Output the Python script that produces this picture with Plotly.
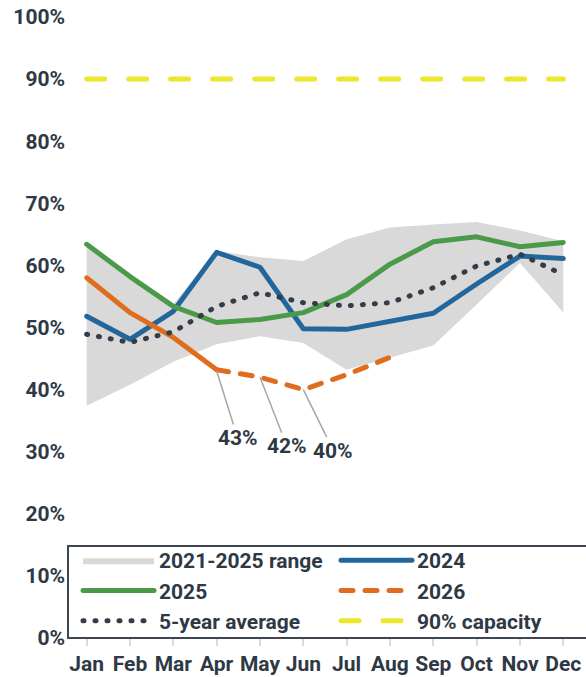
import plotly.graph_objects as go

months = ["Jan", "Feb", "Mar", "Apr", "May", "Jun", "Jul", "Aug", "Sep", "Oct", "Nov", "Dec"]

range_low = [37.4, 40.8, 44.5, 47.3, 48.6, 47.5, 43.2, 45.2, 47.1, 53.7, 60.4, 52.4]
range_high = [63.7, 58.5, 53.8, 62.3, 61.3, 60.7, 64.2, 66.1, 66.6, 67.0, 65.6, 63.9]
y2024 = [51.8, 48.1, 52.6, 62.1, 59.7, 49.8, 49.7, 51.0, 52.3, 57.0, 61.5, 61.1]
y2025 = [63.4, 58.2, 53.4, 50.8, 51.3, 52.4, 55.3, 60.2, 63.8, 64.6, 63.0, 63.7]
y2026_actual = [58.0, 52.4, 48.4, 43.2, None, None, None, None, None, None, None, None]
y2026_proj = [None, None, None, 43.2, 42.0, 40.0, 42.4, 45.2, None, None, None, None]
avg5 = [48.9, 47.6, 49.3, 53.4, 55.6, 54.0, 53.5, 54.0, 56.4, 59.9, 61.8, 58.5]
capacity = [90] * 12

callout_months = ["Apr", "May", "Jun"]
callout_values = [43, 42, 40]
callout_offsets = [(21, 67), (27, 69), (30, 61)]

TEXT = "#2e3945"
FONT = dict(family="Roboto", size=21, color=TEXT, weight="bold")

# second legend column gets a narrower entry so the legend fits in the page
COL2_WIDTH = 140

fig = go.Figure()

fig.add_trace(go.Scatter(x=months, y=range_low, mode="lines", line=dict(width=0),
                         showlegend=False, hoverinfo="skip"))
fig.add_trace(go.Scatter(x=months, y=range_high, mode="lines", line=dict(width=0),
                         fill="tonexty", fillcolor="#d9d9d9", name="2021-2025 range"))
fig.add_trace(go.Scatter(x=months, y=y2024, mode="lines", name="2024", legendwidth=COL2_WIDTH,
                         line=dict(color="#22669b", width=5)))
fig.add_trace(go.Scatter(x=months, y=y2025, mode="lines", name="2025",
                         line=dict(color="#4a9a4a", width=5)))
fig.add_trace(go.Scatter(x=months, y=y2026_actual, mode="lines", showlegend=False,
                         line=dict(color="#e06d1e", width=5)))
fig.add_trace(go.Scatter(x=months, y=y2026_proj, mode="lines", name="2026", legendwidth=COL2_WIDTH,
                         line=dict(color="#e06d1e", width=5, dash="12px,12px")))
fig.add_trace(go.Scatter(x=months, y=avg5, mode="lines", name="5-year average",
                         line=dict(color="#333c47", width=5, dash="1px,11px")))
fig.add_trace(go.Scatter(x=months, y=capacity, mode="lines", name="90% capacity",
                         legendwidth=COL2_WIDTH,
                         line=dict(color="#ece62c", width=5, dash="18px,24px")))

for m, v, (ax, ay) in zip(callout_months, callout_values, callout_offsets):
    fig.add_annotation(x=m, y=v, text=f"{v}%", showarrow=True, arrowhead=0,
                       arrowwidth=1.5, arrowcolor="#a6a6a6", ax=ax, ay=ay,
                       font=FONT)

# legend frame, drawn as a shape so the entries can sit inside it freely
fig.add_shape(type="rect", xref="paper", yref="paper", x0=0, x1=1.1, y0=0, y1=92 / 621,
              line=dict(color="#3d4651", width=2), fillcolor="white", layer="above")

# plot area starts at the legend's left edge; padding the category range keeps
# Jan at x~87 and Dec at x~563 while giving the legend room for two columns
fig.update_layout(
    width=586,
    height=677,
    margin=dict(l=68, r=0, t=17, b=39),
    plot_bgcolor="white",
    paper_bgcolor="white",
    font=FONT,
    showlegend=True,
    legend=dict(
        orientation="h",
        x=10 / 518, xanchor="left",
        y=-3 / 621, yanchor="bottom",
        bgcolor="rgba(0,0,0,0)",
        borderwidth=0,
        itemwidth=71,
        entrywidth=172,
        font=FONT,
        traceorder="normal",
    ),
    xaxis=dict(
        type="category",
        range=[-0.431, 11.524],
        showgrid=False,
        ticks="outside",
        ticklen=7,
        tickwidth=2,
        tickcolor="#d9d9d9",
        showline=False,
        automargin=False,
        tickfont=FONT,
    ),
    yaxis=dict(
        range=[0, 100],
        dtick=10,
        ticksuffix="%",
        showgrid=False,
        zeroline=False,
        ticklabelstandoff=2,
        automargin=False,
        tickfont=FONT,
    ),
)

page_fix = """
document.body.style.margin = '0';
var gd = document.getElementById('{plot_id}');
gd.querySelectorAll('.scatterlayer .js-line, .legendlines path').forEach(function(p){
    p.style.strokeLinecap = 'round';
    p.style.strokeLinejoin = 'round';
});
"""

fig.write_html("out.html", post_script=page_fix, config={"displayModeBar": False})
